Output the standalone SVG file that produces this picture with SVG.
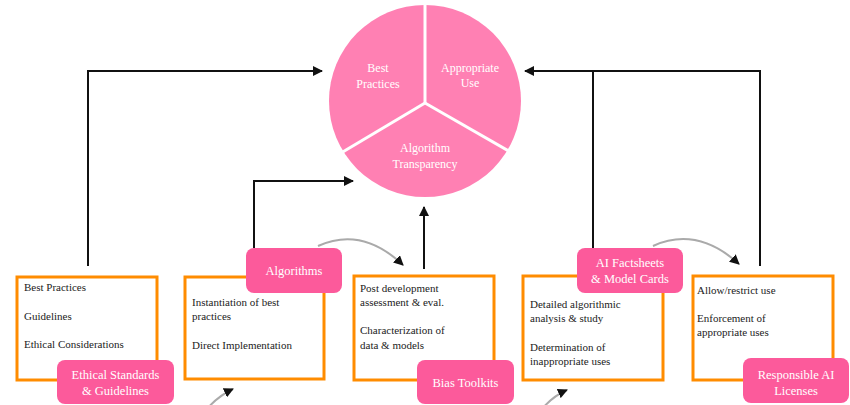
<svg xmlns="http://www.w3.org/2000/svg" width="850" height="405" viewBox="0 0 850 405">
  <style>
    .box { fill: #ffffff; stroke: #ff8c00; stroke-width: 3; }
    .tag { fill: #fc5a9b; }
    .tag-text { font-family: "Liberation Serif", "Times New Roman", serif; font-size: 12.5px; fill: #ffffff; text-anchor: middle; }
    .body { font-family: "Liberation Serif", "Times New Roman", serif; font-size: 11px; fill: #222222; }
    .pie-text { font-family: "Liberation Serif", "Times New Roman", serif; font-size: 12px; fill: #ffffff; text-anchor: middle; }
    .link { fill: none; stroke: #111111; stroke-width: 2; }
    .flow { fill: none; stroke: #aaaaaa; stroke-width: 2; }
  </style>
  <defs>
    <marker id="head" viewBox="0 0 10 10" refX="9" refY="5" markerWidth="5" markerHeight="5" orient="auto" markerUnits="strokeWidth">
      <path d="M0,0 L10,5 L0,10 z" fill="#111111"/>
    </marker>
  </defs>
  <rect width="850" height="405" fill="#ffffff"/>

  <!-- central pie -->
  <g id="pie">
    <circle cx="425" cy="101" r="96" fill="#ff80b3"/>
    <g stroke="#ffffff" stroke-width="3">
      <line x1="425" y1="103" x2="425" y2="4"/>
      <line x1="425" y1="103" x2="341" y2="153"/>
      <line x1="425" y1="103" x2="512" y2="153"/>
    </g>
    <text class="pie-text" x="378" y="72">Best</text>
    <text class="pie-text" x="378" y="88">Practices</text>
    <text class="pie-text" x="470" y="72">Appropriate</text>
    <text class="pie-text" x="470" y="87">Use</text>
    <text class="pie-text" x="425" y="152">Algorithm</text>
    <text class="pie-text" x="425" y="168">Transparency</text>
  </g>

  <!-- connectors -->
  <g id="connectors">
    <polyline class="link" points="88,266 88,71 322,71" marker-end="url(#head)"/>
    <polyline class="link" points="254,248 254,181 353,181" marker-end="url(#head)"/>
    <line class="link" x1="424" y1="269" x2="424" y2="207" marker-end="url(#head)"/>
    <polyline class="link" points="760,266 760,71 525,71" marker-end="url(#head)"/>
    <line class="link" x1="593" y1="71" x2="593" y2="248"/>
    <path class="flow" d="M318,246 Q362,226 403,265" marker-end="url(#head)"/>
    <path class="flow" d="M653,246 Q697,226 739,264" marker-end="url(#head)"/>
    <path class="flow" d="M206,410 Q218,396 233,389" marker-end="url(#head)"/>
    <path class="flow" d="M541,410 Q553,396 567,390" marker-end="url(#head)"/>
  </g>

  <g id="ethical-standards">
    <rect class="box" x="17" y="277" width="140" height="103"/>
    <text class="body" x="24" y="291">Best Practices</text>
    <text class="body" x="24" y="320">Guidelines</text>
    <text class="body" x="24" y="348">Ethical Considerations</text>
    <rect class="tag" x="57" y="360" width="117" height="44" rx="8"/>
    <text class="tag-text" x="115.5" y="379">Ethical Standards</text>
    <text class="tag-text" x="115.5" y="395">&amp; Guidelines</text>
  </g>

  <g id="algorithms">
    <rect class="box" x="185" y="277" width="139" height="102"/>
    <text class="body" x="192" y="306">Instantiation of best</text>
    <text class="body" x="192" y="320">practices</text>
    <text class="body" x="192" y="349">Direct Implementation</text>
    <rect class="tag" x="246" y="248" width="96" height="45" rx="8"/>
    <text class="tag-text" x="294" y="275">Algorithms</text>
  </g>

  <g id="bias-toolkits">
    <rect class="box" x="354" y="276" width="140" height="104"/>
    <text class="body" x="360" y="292">Post development</text>
    <text class="body" x="360" y="306">assessment &amp; eval.</text>
    <text class="body" x="360" y="334">Characterization of</text>
    <text class="body" x="360" y="349">data &amp; models</text>
    <rect class="tag" x="417" y="360" width="97" height="44" rx="8"/>
    <text class="tag-text" x="465.5" y="387">Bias Toolkits</text>
  </g>

  <g id="factsheets">
    <rect class="box" x="523" y="276" width="140" height="104"/>
    <text class="body" x="530" y="308">Detailed algorithmic</text>
    <text class="body" x="530" y="322">analysis &amp; study</text>
    <text class="body" x="530" y="351">Determination of</text>
    <text class="body" x="530" y="365">inappropriate uses</text>
    <rect class="tag" x="577" y="248" width="106" height="45" rx="8"/>
    <text class="tag-text" x="630" y="267">AI Factsheets</text>
    <text class="tag-text" x="630" y="283">&amp; Model Cards</text>
  </g>

  <g id="licenses">
    <rect class="box" x="693" y="276" width="140" height="104"/>
    <text class="body" x="697" y="294">Allow/restrict use</text>
    <text class="body" x="697" y="322">Enforcement of</text>
    <text class="body" x="697" y="336">appropriate uses</text>
    <rect class="tag" x="743" y="358" width="106" height="45" rx="8"/>
    <text class="tag-text" x="796" y="379">Responsible AI</text>
    <text class="tag-text" x="796" y="395">Licenses</text>
  </g>
</svg>
